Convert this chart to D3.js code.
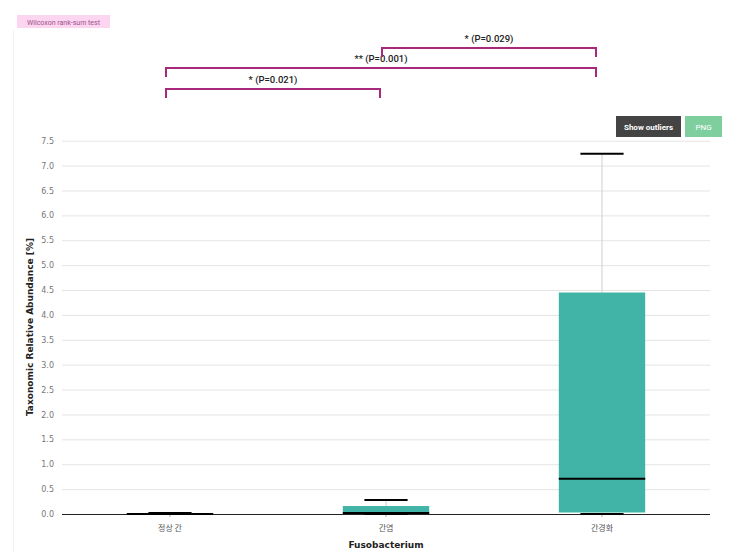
<!DOCTYPE html>
<html>
<head>
<meta charset="utf-8">
<script src="https://cdn.jsdelivr.net/npm/d3@7"></script>
<style>
  html, body { margin: 0; padding: 0; background: #fff; }
  svg { display: block; font-family: Roboto, "Noto Sans", "Noto Sans CJK KR", sans-serif; }
</style>
</head>
<body>
<svg id="chart" width="735" height="555"></svg>
<script>
// ---- data ----
const categories = ["정상 간", "간염", "간경화"];
const lowerWhisker = [0.0, 0.0, 0.0];
const q1Values = [0.0, 0.01, 0.03];
const medianValues = [0.002, 0.02, 0.71];
const q3Values = [0.005, 0.16, 4.45];
const upperWhisker = [0.02, 0.28, 7.24];
const yTicks = [0, 0.5, 1, 1.5, 2, 2.5, 3, 3.5, 4, 4.5, 5, 5.5, 6, 6.5, 7, 7.5];
const comparisons = [
  { a: 0, b: 1, label: "* (P=0.021)", level: 0 },
  { a: 0, b: 2, label: "** (P=0.001)", level: 1 },
  { a: 1, b: 2, label: "* (P=0.029)", level: 2 }
];
const yTitle = "Taxonomic Relative Abundance [%]";
const xTitle = "Fusobacterium";
const testLabel = "Wilcoxon rank-sum test";

// ---- layout ----
const svg = d3.select("#chart");
const plotLeft = 62, plotRight = 710, plotTop = 140.7, plotBottom = 514;
const x = d3.scaleBand().domain(categories).range([plotLeft, plotRight]).padding(0);
const y = d3.scaleLinear().domain([0, 7.5]).range([plotBottom, plotTop]);
const boxW = x.bandwidth() * 0.4;
const capW = boxW / 2;
const teal = "#41b4a7";
const bracketColor = "#a8287c";

// faint container border
svg.append("line").attr("x1", 13.5).attr("x2", 13.5).attr("y1", 30).attr("y2", 552)
  .attr("stroke", "#f2f2f2").attr("stroke-width", 1);

// test badge
svg.append("rect").attr("x", 17).attr("y", 15).attr("width", 93).attr("height", 13)
  .attr("fill", "#fcd5f0");
svg.append("text").attr("x", 63.5).attr("y", 24.5).attr("text-anchor", "middle")
  .attr("font-size", 7).attr("fill", "#a0508a").text(testLabel);

// buttons
svg.append("rect").attr("x", 616).attr("y", 116).attr("width", 65).attr("height", 21).attr("fill", "#444");
svg.append("text").attr("x", 648.5).attr("y", 129.5).attr("text-anchor", "middle")
  .attr("font-size", 8).attr("font-weight", "bold").attr("fill", "#fff").text("Show outliers");
svg.append("rect").attr("x", 685).attr("y", 116).attr("width", 37).attr("height", 21).attr("fill", "#7fcf9e");
svg.append("text").attr("x", 703.5).attr("y", 129.5).attr("text-anchor", "middle")
  .attr("font-size", 8).attr("fill", "#fff").text("PNG");

// gridlines + y axis
const yAxis = d3.axisLeft(y).tickValues(yTicks).tickFormat(d3.format(".1f")).tickSize(-(plotRight - plotLeft)).tickPadding(8);
const gy = svg.append("g").attr("transform", `translate(${plotLeft},0)`).call(yAxis);
gy.select(".domain").remove();
gy.selectAll(".tick line").attr("stroke", "#e4e4e4").attr("stroke-width", 1);
gy.selectAll(".tick text").attr("font-size", 8).attr("fill", "#777")
  .attr("font-family", "'DejaVu Sans', sans-serif");

// x axis
const xAxis = d3.axisBottom(x).tickSize(3).tickPadding(8);
const gx = svg.append("g").attr("transform", `translate(0,${plotBottom})`).call(xAxis);
gx.select(".domain").attr("stroke", "#222").attr("d", `M${plotLeft},0.5H${plotRight}`);
gx.selectAll(".tick line").attr("stroke", "#aaa");
gx.selectAll(".tick text").attr("font-size", 8).attr("fill", "#555")
  .attr("font-family", "'Noto Sans CJK KR', sans-serif");

// boxes
categories.forEach((c, i) => {
  const cx = x(c) + x.bandwidth() / 2;
  const g = svg.append("g");
  g.append("line").attr("x1", cx).attr("x2", cx)
    .attr("y1", y(q3Values[i])).attr("y2", y(upperWhisker[i]))
    .attr("stroke", "#cfcfcf").attr("stroke-width", 1);
  g.append("line").attr("x1", cx).attr("x2", cx)
    .attr("y1", y(q1Values[i])).attr("y2", y(lowerWhisker[i]))
    .attr("stroke", "#cfcfcf").attr("stroke-width", 1);
  g.append("rect").attr("x", cx - boxW / 2).attr("width", boxW)
    .attr("y", y(q3Values[i])).attr("height", Math.max(0, y(q1Values[i]) - y(q3Values[i])))
    .attr("fill", teal);
  [upperWhisker[i], lowerWhisker[i]].forEach(v => {
    g.append("line").attr("x1", cx - capW / 2).attr("x2", cx + capW / 2)
      .attr("y1", y(v)).attr("y2", y(v)).attr("stroke", "#000").attr("stroke-width", 2);
  });
  g.append("line").attr("x1", cx - boxW / 2).attr("x2", cx + boxW / 2)
    .attr("y1", y(medianValues[i])).attr("y2", y(medianValues[i]))
    .attr("stroke", "#000").attr("stroke-width", 2);
});

// significance brackets
const levelY = [89, 68, 48];
comparisons.forEach(cmp => {
  const x1 = x(categories[cmp.a]) + x.bandwidth() / 2 - 4;
  const x2 = x(categories[cmp.b]) + x.bandwidth() / 2 - 6;
  const yy = levelY[cmp.level];
  svg.append("path")
    .attr("d", `M${x1},${yy + 9}V${yy}H${x2}V${yy + 9}`)
    .attr("fill", "none").attr("stroke", bracketColor).attr("stroke-width", 2);
  svg.append("text").attr("x", (x1 + x2) / 2).attr("y", yy - 6)
    .attr("text-anchor", "middle").attr("font-size", 9.5).attr("font-weight", 500).attr("fill", "#222")
    .text(cmp.label);
});

// axis titles
svg.append("text").attr("transform", `translate(33,327) rotate(-90)`)
  .attr("text-anchor", "middle").attr("font-size", 9).attr("font-weight", "bold")
  .attr("fill", "#222").attr("font-family", "'DejaVu Sans', sans-serif").text(yTitle);
svg.append("text").attr("x", 386).attr("y", 548).attr("text-anchor", "middle")
  .attr("font-size", 9).attr("font-weight", "bold").attr("fill", "#222")
  .attr("font-family", "'DejaVu Sans', sans-serif").text(xTitle);
</script>
</body>
</html>
